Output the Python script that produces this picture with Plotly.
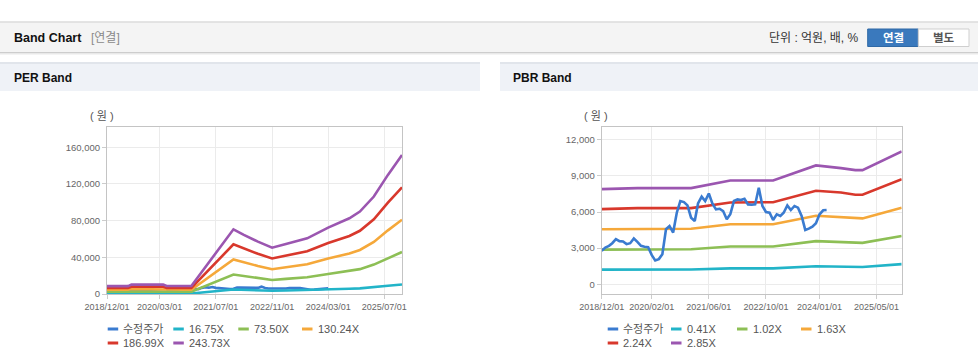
import plotly.graph_objects as go
import pandas as pd

W, H = 978, 361

# ---------------- data ----------------
# PER band (원)
per_dates = ["2018-12-01", "2019-06-01", "2019-07-01", "2020-04-01", "2020-05-01", "2020-12-01",
             "2021-12-01", "2022-03-01", "2022-07-01", "2022-11-01", "2023-03-01", "2023-09-01",
             "2024-03-01", "2024-09-01", "2024-12-01", "2025-04-01", "2025-08-01", "2025-12-01"]
per_16_75 = [590, 590, 700, 700, 600, 600, 4840, 4430, 3920, 3470, 3750, 4170, 4980, 5670, 6170, 7300, 8920, 10420]
per_73_50 = [2590, 2590, 3080, 3080, 2620, 2620, 21260, 19420, 17220, 15230, 16440, 18310, 21840, 24880, 27080, 32030, 39150, 45720]
per_130_24 = [4600, 4600, 5450, 5450, 4650, 4650, 37680, 34420, 30510, 26990, 29120, 32440, 38690, 44090, 47990, 56750, 69370, 81010]
per_186_99 = [6600, 6600, 7830, 7830, 6670, 6670, 54090, 49410, 43810, 38740, 41810, 46570, 55550, 63290, 68900, 81480, 99580, 116310]
per_243_73 = [8600, 8600, 10200, 10200, 8700, 8700, 70500, 64400, 57100, 50500, 54500, 60700, 72400, 82500, 89800, 106200, 129800, 151600]
per_names = ["수정주가", "16.75X", "73.50X", "130.24X", "186.99X", "243.73X"]
per_xticks = ["2018-12-01", "2020-03-01", "2021-07-01", "2022-11-01", "2024-03-01", "2025-07-01"]
per_yticks = [0, 40000, 80000, 120000, 160000]

# PBR band (원)
pbr_dates = ["2018-12-01", "2019-10-01", "2021-01-01", "2021-12-01", "2022-12-01",
             "2023-12-01", "2024-07-01", "2024-11-01", "2025-01-01", "2025-12-01"]
pbr_0_41 = [1220, 1230, 1230, 1320, 1320, 1500, 1470, 1440, 1440, 1670]
pbr_1_02 = [2880, 2910, 2910, 3140, 3140, 3580, 3500, 3440, 3440, 4000]
pbr_1_63 = [4570, 4610, 4610, 4980, 4980, 5690, 5570, 5470, 5470, 6360]
pbr_2_24 = [6235, 6320, 6320, 6790, 6815, 7760, 7620, 7430, 7430, 8730]
pbr_2_85 = [7900, 7980, 7980, 8620, 8620, 9865, 9640, 9480, 9480, 11030]
pbr_names = ["수정주가", "0.41X", "1.02X", "1.63X", "2.24X", "2.85X"]
pbr_xticks = ["2018-12-01", "2020-02-01", "2021-06-01", "2022-10-01", "2024-01-01", "2025-05-01"]
pbr_yticks = [0, 3000, 6000, 9000, 12000]

# adjusted price (수정주가), monthly from 2018/12
price = [2780, 3050, 3190, 3410, 3740, 3580, 3550, 3330, 3410, 3800, 3520, 3190, 3110, 3080, 2420, 1980,
         2090, 2500, 4570, 4840, 4290, 5940, 6910, 6820, 6550, 5530, 5260, 6710, 7270, 6910, 7540, 6710,
         6220, 6270, 6080, 5390, 5810, 6910, 7040, 6990, 7100, 6630, 6600, 6630, 8010, 6500, 6000, 5940,
         5340, 5810, 5670, 5940, 6550, 6160, 6500, 6360, 5670, 4510, 4620, 4790, 5060, 5810, 6140, 6160]
price_dates = pd.date_range("2018-12-01", periods=len(price), freq="MS")

# ---------------- styling ----------------
FONT = "Liberation Sans, Arial, Noto Sans CJK KR, sans-serif"
colors = ["#3a7bd0", "#22b4c8", "#8dbf55", "#f5a83a", "#d8382c", "#9b56b0"]
X_RANGE = ["2018-12-01", "2025-12-01"]


def px(x):
    return x / W


def py(y):
    return 1 - y / H


fig = go.Figure()

per_series = [per_16_75, per_73_50, per_130_24, per_186_99, per_243_73]
pbr_series = [pbr_0_41, pbr_1_02, pbr_1_63, pbr_2_24, pbr_2_85]

# PER traces
fig.add_trace(go.Scatter(x=price_dates, y=price, mode="lines", name=per_names[0],
                         line=dict(color=colors[0], width=2.6), xaxis="x", yaxis="y", showlegend=False))
for i, s in enumerate(per_series):
    fig.add_trace(go.Scatter(x=per_dates, y=s, mode="lines", name=per_names[i + 1],
                             line=dict(color=colors[i + 1], width=2.6), xaxis="x", yaxis="y",
                             showlegend=False))
# PBR traces
for i, s in enumerate(pbr_series):
    fig.add_trace(go.Scatter(x=pbr_dates, y=s, mode="lines", name=pbr_names[i + 1],
                             line=dict(color=colors[i + 1], width=2.6), xaxis="x2", yaxis="y2",
                             showlegend=False))
fig.add_trace(go.Scatter(x=price_dates, y=price, mode="lines", name=pbr_names[0],
                         line=dict(color=colors[0], width=2.6), xaxis="x2", yaxis="y2", showlegend=False))

axis_common = dict(showgrid=True, gridcolor="#ebebeb", gridwidth=1, showline=True, linecolor="#c4c4c4",
                   linewidth=1, mirror=True, ticks="outside", ticklen=4, tickcolor="#cccccc",
                   zeroline=False, fixedrange=True, automargin=False)

ydom = [py(294), py(127)]
fig.update_layout(
    xaxis=dict(domain=[px(107), px(402)], type="date", range=X_RANGE, tickvals=per_xticks,
               tickformat="%Y/%m/%d", tickfont=dict(size=9, color="#666", family=FONT),
               anchor="y", **axis_common),
    yaxis=dict(domain=ydom, range=[0, 182000], tickvals=per_yticks, tickformat=",",
               tickfont=dict(size=9.5, color="#666", family=FONT), anchor="x", **axis_common),
    xaxis2=dict(domain=[px(601.7), px(901.7)], type="date", range=X_RANGE, tickvals=pbr_xticks,
                tickformat="%Y/%m/%d", tickfont=dict(size=9, color="#666", family=FONT),
                anchor="y2", **axis_common),
    yaxis2=dict(domain=ydom, range=[-807, 13056], tickvals=pbr_yticks, tickformat=",",
                tickfont=dict(size=9.5, color="#666", family=FONT), anchor="x2", **axis_common),
)

shapes = []
annotations = []


def rect(x0, y0, x1, y1, fill, line_color=None, lw=0):
    shapes.append(dict(type="rect", xref="paper", yref="paper", x0=px(x0), x1=px(x1), y0=py(y1), y1=py(y0),
                       fillcolor=fill, line=dict(color=line_color or fill, width=lw), layer="below"))


def hline(x0, x1, y, color, lw):
    shapes.append(dict(type="line", xref="paper", yref="paper", x0=px(x0), x1=px(x1), y0=py(y), y1=py(y),
                       line=dict(color=color, width=lw)))


def text(x, y, t, size, color, anchor="left", bold=False):
    annotations.append(dict(xref="paper", yref="paper", x=px(x), y=py(y), text=(f"<b>{t}</b>" if bold else t),
                            showarrow=False, xanchor=anchor, yanchor="middle",
                            font=dict(size=size, color=color, family=FONT)))


# top header bar
rect(0, 21.5, 978, 52, "#f4f4f4")
hline(0, 978, 22, "#dcdcdc", 1.5)
hline(0, 978, 52.5, "#cdcdcd", 1)
hline(0, 978, 53.8, "#e9e9e9", 1.5)
text(12, 38, "Band Chart", 12.5, "#111", bold=True)
text(88.5, 38, "[연결]", 12, "#8a8a8a")
text(861, 38, "단위 : 억원, 배, %", 12, "#333", anchor="right")
rect(867.7, 29, 918.3, 46.5, "#3a79bd", "#2f69a6", 1)
rect(918.3, 29, 969, 46.5, "#ffffff", "#cfcfcf", 1)
text(893, 37.8, "연결", 11.5, "#ffffff", anchor="center", bold=True)
text(943.6, 37.8, "별도", 11.5, "#555", anchor="center", bold=True)

# panel headers
rect(0, 63, 480, 91, "#eff2f7")
hline(0, 480, 63, "#e1e5eb", 2)
rect(500, 63, 978, 91, "#eff2f7")
hline(500, 978, 63, "#e1e5eb", 2)
text(12, 78, "PER Band", 12, "#111", bold=True)
text(510.7, 78, "PBR Band", 12, "#111", bold=True)

# unit labels
text(102, 116, "( 원 )", 11, "#555", anchor="center")
text(596, 116, "( 원 )", 11, "#555", anchor="center")


# legends
def legend(names, cols, rows):
    for i, name in enumerate(names):
        cx = cols[i % 4] if i < 4 else cols[i - 4]
        cy = rows[0] if i < 4 else rows[1]
        shapes.append(dict(type="line", xref="paper", yref="paper", x0=px(cx), x1=px(cx + 10.5),
                           y0=py(cy), y1=py(cy), line=dict(color=colors[i], width=3)))
        text(cx + 13.5, cy, name, 11, "#555")


legend(per_names, [107.7, 173.3, 238.3, 302.0], [329, 343])
legend(pbr_names, [607.7, 671.0, 737.0, 801.0], [329, 343])

fig.update_layout(
    width=W, height=H, margin=dict(l=0, r=0, t=0, b=0, pad=0, autoexpand=False),
    paper_bgcolor="#ffffff", plot_bgcolor="#ffffff",
    shapes=shapes, annotations=annotations, showlegend=False,
    font=dict(family=FONT),
)

fig.write_html("out.html", config={"responsive": False, "displayModeBar": False},
               post_script="document.body.style.margin='0';document.body.style.overflow='hidden';")
